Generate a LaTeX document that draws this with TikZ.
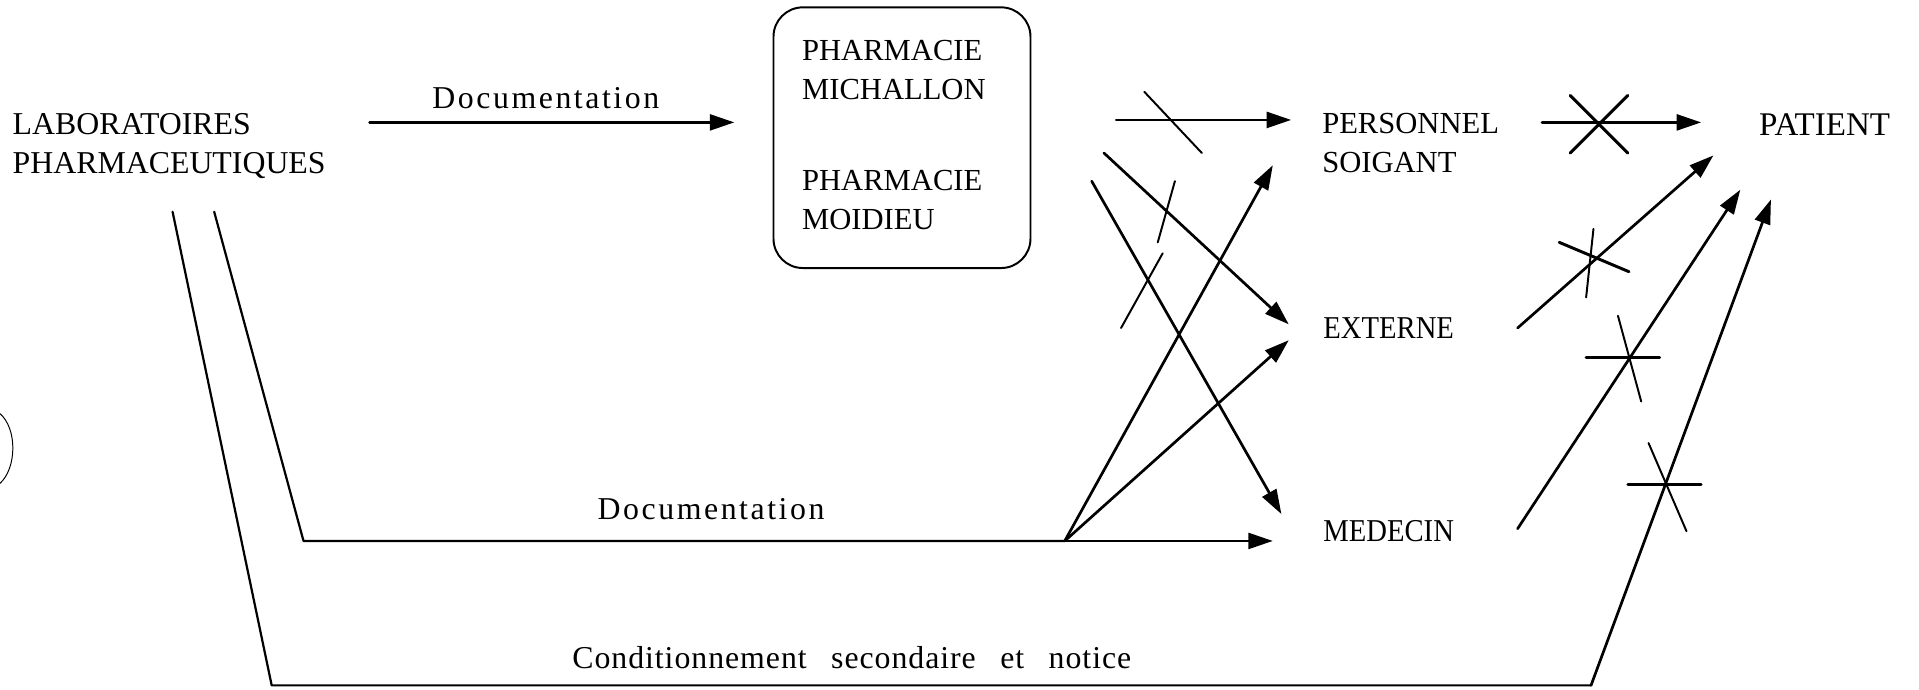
\documentclass[tikz,border=0pt]{standalone}
\usepackage{fontspec}
\setmainfont{Liberation Serif}
\newfontfamily\docfont[LetterSpace=8]{Liberation Serif}
\newfontfamily\condtext[LetterSpace=3]{Liberation Serif}
\newfontfamily\narrowfont[FakeStretch=0.9]{Liberation Serif}
\usetikzlibrary{arrows.meta}
\begin{document}
\begin{tikzpicture}[x=0.5pt,y=-0.5pt,
  lbl/.style={font=\fontsize{12.5}{16}\selectfont, inner sep=0pt, anchor=west, align=left},
  doclbl/.style={font=\docfont\fontsize{13}{15}\selectfont, inner sep=0pt},
  ln/.style={line width=0.9pt, line cap=round, line join=round},
  arr/.style={line width=1.1pt, line cap=round, -{Triangle[length=10pt,width=6.5pt]}},
  tickmark/.style={line width=0.8pt, line cap=round},
  heavytick/.style={line width=1.2pt, line cap=round},
]
\useasboundingbox (0,0) rectangle (1568,563);

% nodes
\node[lbl, font=\fontsize{13}{16}\selectfont] (lab) at (10,119) {LABORATOIRES\\PHARMACEUTIQUES};
\node[draw, line width=0.8pt, rounded corners=12pt, minimum width=105pt, minimum height=106.5pt, inner sep=0pt] (box) at (737,112.5) {};
\node[lbl] (mich) at (655,57.5) {PHARMACIE\\MICHALLON};
\node[lbl] (moid) at (655,163.5) {PHARMACIE\\MOIDIEU};
\node[lbl] (pers) at (1080,117) {PERSONNEL\\SOIGANT};
\node[lbl, font=\narrowfont\fontsize{13}{16}\selectfont] (ext) at (1081,268) {EXTERNE};
\node[lbl, font=\narrowfont\fontsize{13}{16}\selectfont] (med) at (1081,434) {MEDECIN};
\node[lbl, font=\fontsize{13.5}{16}\selectfont] (pat) at (1437,102) {PATIENT};
\node[doclbl] (doc1) at (446,80) {Documentation};
\node[doclbl] (doc2) at (581,416) {Documentation};
\node[doclbl, font=\condtext\fontsize{13}{15}\selectfont] (cond) at (696,537) {Conditionnement\hspace{10pt}secondaire\hspace{10pt}et\hspace{10pt}notice};

% coordinates
\coordinate (a1s) at (302,100);  \coordinate (a1e) at (600,100);
\coordinate (a2s) at (912,98);   \coordinate (a2e) at (1055,98);
\coordinate (a3s) at (902,125);  \coordinate (a3e) at (1053,265);
\coordinate (a4s) at (892,148);  \coordinate (a4e) at (1047,420);
\coordinate (J) at (870,442);
\coordinate (jp) at (1040,135);  \coordinate (je) at (1053,278);  \coordinate (jm) at (1040,442);
\coordinate (dA) at (175,173);   \coordinate (dB) at (248,442);
\coordinate (cA) at (141,173);   \coordinate (cB) at (222,560);   \coordinate (cC) at (1300,560);
\coordinate (cE) at (1447,163);
\coordinate (pps) at (1260,100); \coordinate (ppe) at (1390,100);
\coordinate (eps) at (1240,268); \coordinate (epe) at (1400,127);
\coordinate (mps) at (1240,432); \coordinate (mpe) at (1422,155);

% connectors
\draw[arr] (a1s) -- (a1e);
\draw[arr] (a2s) -- (a2e);
\draw[arr] (a3s) -- (a3e);
\draw[arr] (a4s) -- (a4e);
\draw[ln] (dA) -- (dB) -- (J);
\draw[arr] (J) -- (jm);
\draw[arr] (J) -- (jp);
\draw[arr] (J) -- (je);
\draw[ln] (cA) -- (cB) -- (cC);
\draw[arr] (cC) -- (cE);
\draw[arr] (pps) -- (ppe);
\draw[arr] (eps) -- (epe);
\draw[arr] (mps) -- (mpe);

% crossing marks
\draw[tickmark] (935,75) -- (982,125);
\draw[tickmark] (960,148) -- (946,198);
\draw[tickmark] (950,207) -- (916,268);
\draw[heavytick] (1283,78) -- (1330,125);
\draw[heavytick] (1330,78) -- (1283,125);
\draw[tickmark] (1302,187) -- (1296,243);
\draw[heavytick] (1274,198) -- (1331,222);
\draw[tickmark] (1322,258) -- (1341,328);
\draw[heavytick] (1296,292) -- (1356,292);
\draw[tickmark] (1347,362) -- (1378,434);
\draw[heavytick] (1330,396) -- (1390,396);

% hole-punch trace at left edge
\draw[line width=0.4pt] (0,338) .. controls (14,350) and (14,382) .. (0,395);
\end{tikzpicture}
\end{document}
